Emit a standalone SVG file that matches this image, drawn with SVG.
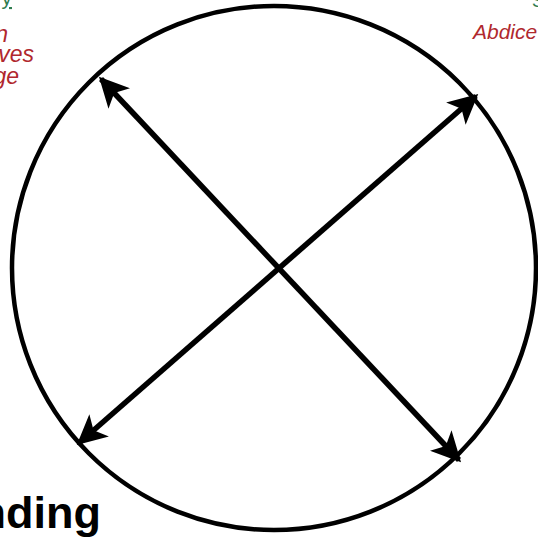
<svg xmlns="http://www.w3.org/2000/svg" width="538" height="538" viewBox="0 0 538 538">
<defs>
<style>
.red{font-family:"Liberation Sans",Arial,sans-serif;font-style:italic;fill:#b0282e;}
.green{font-family:"Liberation Sans",Arial,sans-serif;fill:#2f7d4f;}
.big{font-family:"Liberation Sans",Arial,sans-serif;font-weight:bold;fill:#000;}
.ln{stroke:#000;stroke-width:5.5;fill:none;}
</style>
<marker id="ah" viewBox="0 0 10 10" refX="9" refY="5" markerWidth="5.8" markerHeight="5.4" orient="auto-start-reverse" markerUnits="strokeWidth">
<path d="M0,0 L10,5 L0,10 L2.5,5 Z" fill="#000"/>
</marker>
</defs>
<rect width="538" height="538" fill="#fff"/>
<g id="circle">
<circle cx="274" cy="268" r="262" fill="none" stroke="#000" stroke-width="4.5"/>
</g>
<g id="connectors">
<line class="ln" x1="101" y1="79" x2="459" y2="460" marker-start="url(#ah)" marker-end="url(#ah)"/>
<line class="ln" x1="476" y1="96" x2="79" y2="443" marker-start="url(#ah)" marker-end="url(#ah)"/>
</g>
<g id="label-topleft">
<text class="green" x="12" y="5" font-size="21" text-anchor="end" text-decoration="underline">y</text>
<text class="red" x="8" y="42" font-size="23" text-anchor="end">n</text>
<text class="red" x="34" y="62" font-size="23" text-anchor="end">ves</text>
<text class="red" x="19" y="84" font-size="23" text-anchor="end">ge</text>
</g>
<g id="label-topright">
<text class="green" x="532" y="7" font-size="18">S</text>
<text class="red" x="473" y="39" font-size="21">Abdice</text>
</g>
<g id="label-bottom">
<text class="big" x="101" y="528" font-size="45" text-anchor="end">nding</text>
</g>
</svg>
